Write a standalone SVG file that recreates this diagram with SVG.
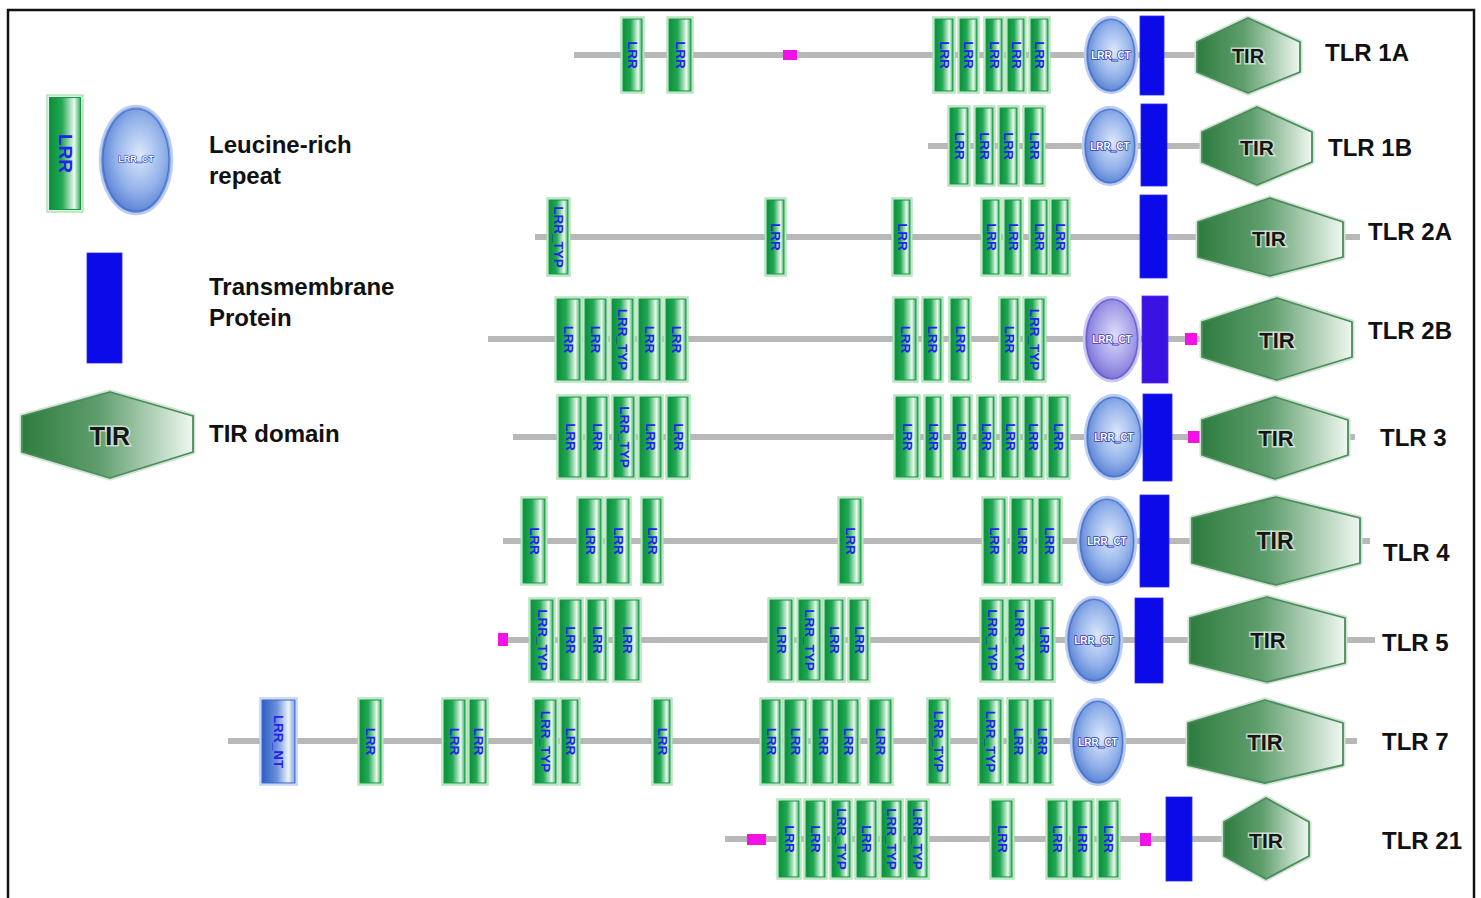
<svg xmlns="http://www.w3.org/2000/svg" width="1481" height="898" viewBox="0 0 1481 898">
  <defs>
    <linearGradient id="gLRR" x1="0" y1="0" x2="1" y2="0">
      <stop offset="0" stop-color="#0a8f3a"/>
      <stop offset="0.4" stop-color="#22a854"/>
      <stop offset="0.8" stop-color="#eaf9ed"/>
      <stop offset="1" stop-color="#33ae5e"/>
    </linearGradient>
    <linearGradient id="gNT" x1="0" y1="0" x2="1" y2="0">
      <stop offset="0" stop-color="#2c5ec6"/>
      <stop offset="0.45" stop-color="#6b90dc"/>
      <stop offset="0.8" stop-color="#eef3fc"/>
      <stop offset="1" stop-color="#7c9fe0"/>
    </linearGradient>
    <radialGradient id="gCT" cx="0.55" cy="0.45" r="0.62">
      <stop offset="0" stop-color="#dde8fb"/>
      <stop offset="0.55" stop-color="#93b2ea"/>
      <stop offset="1" stop-color="#4672cc"/>
    </radialGradient>
    <radialGradient id="gCT2" cx="0.55" cy="0.45" r="0.62">
      <stop offset="0" stop-color="#e0ddfa"/>
      <stop offset="0.55" stop-color="#a39ee8"/>
      <stop offset="1" stop-color="#6c62d0"/>
    </radialGradient>
    <linearGradient id="gTIR" x1="0" y1="0" x2="1" y2="0">
      <stop offset="0" stop-color="#2e7c3f"/>
      <stop offset="0.45" stop-color="#5f9e6d"/>
      <stop offset="1" stop-color="#eff7f0"/>
    </linearGradient>
    <style>
      .bb{stroke:#b8b8b8;stroke-width:6;fill:none}
      .lo{fill:#eaf8ec;stroke:#a3dcab;stroke-width:1.2}
      .li{fill:url(#gLRR);stroke:#129a45;stroke-width:1.1}
      .no{fill:#eef3fc;stroke:#b3c6ee;stroke-width:1.2}
      .ni{fill:url(#gNT);stroke:#3a66c8;stroke-width:1.1}
      .lt{font-family:"Liberation Sans",Arial,sans-serif;font-size:13.5px;font-weight:bold;fill:#2222e8;text-anchor:middle;dominant-baseline:central}
      .ce{fill:url(#gCT);stroke:#bccdf0;stroke-width:2.5}
      .ce2{fill:url(#gCT2);stroke:#cbc7f2;stroke-width:2.5}
      .ci{fill:none;stroke:#4a74cc;stroke-width:1.2}
      .ct{font-family:"Liberation Sans",Arial,sans-serif;font-size:10px;font-weight:bold;fill:#ffffff;stroke:#2c3db5;stroke-width:1.6;paint-order:stroke;stroke-linejoin:round;text-anchor:middle;dominant-baseline:central}
      .tm{fill:#0b0bea;stroke:#2a2af0;stroke-width:0.8}
      .tm2{fill:#3a12e2;stroke:#5030ee;stroke-width:0.8}
      .tiro{fill:none;stroke:#cfe4d3;stroke-width:5;stroke-linejoin:round}
      .tir{fill:url(#gTIR);stroke:#4b8c5b;stroke-width:1.8;stroke-linejoin:round}
      .tt{font-family:"Liberation Sans",Arial,sans-serif;font-weight:bold;fill:#161616;text-anchor:middle;dominant-baseline:central;stroke:#ffffff;stroke-opacity:0.6;stroke-width:3;paint-order:stroke}
      .lab{font-family:"Liberation Sans",Arial,sans-serif;font-size:24px;font-weight:bold;fill:#111111}
      .mg{fill:#f212e6}
    </style>
  </defs>

  <rect x="0" y="0" width="1481" height="898" fill="#ffffff"/>
  <rect x="8" y="10" width="1466" height="900" fill="none" stroke="#111111" stroke-width="2.5"/>

  <!-- protein backbones -->
  <g id="connectors">
    <line class="bb" x1="574" y1="55" x2="1197" y2="55"/>
    <line class="bb" x1="928" y1="146" x2="1202" y2="146"/>
    <line class="bb" x1="535" y1="237" x2="1360" y2="237"/>
    <line class="bb" x1="488" y1="339" x2="1202" y2="339"/>
    <line class="bb" x1="513" y1="437" x2="1355" y2="437"/>
    <line class="bb" x1="503" y1="541" x2="1370" y2="541"/>
    <line class="bb" x1="500" y1="640" x2="1375" y2="640"/>
    <line class="bb" x1="228" y1="741" x2="1357" y2="741"/>
    <line class="bb" x1="725" y1="839" x2="1224" y2="839"/>
  </g>

  <!-- legend -->
  <g id="legend">
    <g id="legend-lrr">
      <rect class="lo" x="47" y="95" width="36" height="117"/>
      <rect class="li" x="49.5" y="97.5" width="31" height="112"/>
      <text class="lt" style="font-size:19px" transform="translate(65 153.5) rotate(90)">LRR</text>
    </g>
    <g id="legend-lrrct">
      <ellipse class="ce" cx="136" cy="160" rx="36" ry="54"/>
      <ellipse class="ci" cx="136" cy="160" rx="33" ry="51"/>
      <text class="ct" style="font-size:9px;stroke-width:1.2" x="136" y="159">LRR_CT</text>
    </g>
    <text class="lab" x="209" y="153">Leucine-rich</text>
    <text class="lab" x="209" y="184">repeat</text>
    <g id="legend-tm">
      <rect class="tm" x="87" y="253" width="35" height="110"/>
    </g>
    <text class="lab" x="209" y="295">Transmembrane</text>
    <text class="lab" x="209" y="326">Protein</text>
    <g id="legend-tir">
      <polygon class="tiro" points="22,416 110,392 193,416 193,452 110,478 22,452"/>
      <polygon class="tir" points="22,416 110,392 193,416 193,452 110,478 22,452"/>
      <text class="tt" style="font-size:25px" x="110" y="436">TIR</text>
    </g>
    <text class="lab" x="209" y="442">TIR domain</text>
  </g>

  <!-- TLR 1A -->
  <g id="tlr1a">
    <g id="tlr1a-lrr1"><rect class="lo" x="621" y="17" width="23" height="76"/><rect class="li" x="623" y="19" width="19" height="72"/><text class="lt" transform="translate(632.5 55) rotate(90)">LRR</text></g>
    <g id="tlr1a-lrr2"><rect class="lo" x="667" y="17" width="26" height="76"/><rect class="li" x="669" y="19" width="22" height="72"/><text class="lt" transform="translate(680 55) rotate(90)">LRR</text></g>
    <g id="tlr1a-site"><rect class="mg" x="783" y="50" width="14" height="10"/></g>
    <g id="tlr1a-lrr3"><rect class="lo" x="933" y="17" width="22" height="76"/><rect class="li" x="935" y="19" width="18" height="72"/><text class="lt" transform="translate(944 55) rotate(90)">LRR</text></g>
    <g id="tlr1a-lrr4"><rect class="lo" x="958" y="17" width="21" height="76"/><rect class="li" x="960" y="19" width="17" height="72"/><text class="lt" transform="translate(968.5 55) rotate(90)">LRR</text></g>
    <g id="tlr1a-lrr5"><rect class="lo" x="984" y="17" width="20" height="76"/><rect class="li" x="986" y="19" width="16" height="72"/><text class="lt" transform="translate(994 55) rotate(90)">LRR</text></g>
    <g id="tlr1a-lrr6"><rect class="lo" x="1006" y="17" width="20" height="76"/><rect class="li" x="1008" y="19" width="16" height="72"/><text class="lt" transform="translate(1016 55) rotate(90)">LRR</text></g>
    <g id="tlr1a-lrr7"><rect class="lo" x="1029" y="17" width="21" height="76"/><rect class="li" x="1031" y="19" width="17" height="72"/><text class="lt" transform="translate(1039.5 55) rotate(90)">LRR</text></g>
    <g id="tlr1a-ct"><ellipse class="ce" cx="1111" cy="55" rx="26" ry="38"/><ellipse class="ci" cx="1111" cy="55" rx="23.5" ry="35.5"/><text class="ct" x="1111" y="55">LRR_CT</text></g>
    <g id="tlr1a-tm"><rect class="tm" x="1140" y="16" width="24" height="79"/></g>
    <g id="tlr1a-tir">
      <polygon class="tiro" points="1197,42 1248,18 1300,42 1300,72 1248,93 1197,72"/>
      <polygon class="tir" points="1197,42 1248,18 1300,42 1300,72 1248,93 1197,72"/>
      <text class="tt" style="font-size:20px" x="1248" y="56">TIR</text>
    </g>
    <text class="lab" x="1325" y="61">TLR 1A</text>
  </g>

  <!-- TLR 1B -->
  <g id="tlr1b">
    <g id="tlr1b-lrr1"><rect class="lo" x="948" y="106" width="22" height="80"/><rect class="li" x="950" y="108" width="18" height="76"/><text class="lt" transform="translate(959 146) rotate(90)">LRR</text></g>
    <g id="tlr1b-lrr2"><rect class="lo" x="974" y="106" width="21" height="80"/><rect class="li" x="976" y="108" width="17" height="76"/><text class="lt" transform="translate(984.5 146) rotate(90)">LRR</text></g>
    <g id="tlr1b-lrr3"><rect class="lo" x="998" y="106" width="21" height="80"/><rect class="li" x="1000" y="108" width="17" height="76"/><text class="lt" transform="translate(1008.5 146) rotate(90)">LRR</text></g>
    <g id="tlr1b-lrr4"><rect class="lo" x="1023" y="106" width="22" height="80"/><rect class="li" x="1025" y="108" width="18" height="76"/><text class="lt" transform="translate(1034 146) rotate(90)">LRR</text></g>
    <g id="tlr1b-ct"><ellipse class="ce" cx="1110" cy="146" rx="27" ry="39"/><ellipse class="ci" cx="1110" cy="146" rx="24.5" ry="36.5"/><text class="ct" x="1110" y="146">LRR_CT</text></g>
    <g id="tlr1b-tm"><rect class="tm" x="1141" y="104" width="26" height="82"/></g>
    <g id="tlr1b-tir">
      <polygon class="tiro" points="1202,132 1257,107 1312,132 1312,162 1257,185 1202,162"/>
      <polygon class="tir" points="1202,132 1257,107 1312,132 1312,162 1257,185 1202,162"/>
      <text class="tt" style="font-size:21px" x="1257" y="147">TIR</text>
    </g>
    <text class="lab" x="1328" y="156">TLR 1B</text>
  </g>

  <!-- TLR 2A -->
  <g id="tlr2a">
    <g id="tlr2a-lrr1"><rect class="lo" x="547" y="198" width="23" height="78"/><rect class="li" x="549" y="200" width="19" height="74"/><text class="lt" transform="translate(558.5 237) rotate(90)">LRR_TYP</text></g>
    <g id="tlr2a-lrr2"><rect class="lo" x="765" y="198" width="21" height="78"/><rect class="li" x="767" y="200" width="17" height="74"/><text class="lt" transform="translate(775.5 237) rotate(90)">LRR</text></g>
    <g id="tlr2a-lrr3"><rect class="lo" x="892" y="198" width="20" height="78"/><rect class="li" x="894" y="200" width="16" height="74"/><text class="lt" transform="translate(902 237) rotate(90)">LRR</text></g>
    <g id="tlr2a-lrr4"><rect class="lo" x="981" y="198" width="20" height="78"/><rect class="li" x="983" y="200" width="16" height="74"/><text class="lt" transform="translate(991 237) rotate(90)">LRR</text></g>
    <g id="tlr2a-lrr5"><rect class="lo" x="1003" y="198" width="20" height="78"/><rect class="li" x="1005" y="200" width="16" height="74"/><text class="lt" transform="translate(1013 237) rotate(90)">LRR</text></g>
    <g id="tlr2a-lrr6"><rect class="lo" x="1029" y="198" width="20" height="78"/><rect class="li" x="1031" y="200" width="16" height="74"/><text class="lt" transform="translate(1039 237) rotate(90)">LRR</text></g>
    <g id="tlr2a-lrr7"><rect class="lo" x="1050" y="198" width="20" height="78"/><rect class="li" x="1052" y="200" width="16" height="74"/><text class="lt" transform="translate(1060 237) rotate(90)">LRR</text></g>
    <g id="tlr2a-tm"><rect class="tm" x="1140" y="195" width="27" height="83"/></g>
    <g id="tlr2a-tir">
      <polygon class="tiro" points="1198,222 1270,198 1343,222 1343,257 1270,276 1198,257"/>
      <polygon class="tir" points="1198,222 1270,198 1343,222 1343,257 1270,276 1198,257"/>
      <text class="tt" style="font-size:21px" x="1269" y="238">TIR</text>
    </g>
    <text class="lab" x="1368" y="240">TLR 2A</text>
  </g>

  <!-- TLR 2B -->
  <g id="tlr2b">
    <g id="tlr2b-lrr1"><rect class="lo" x="555" y="297" width="27" height="85"/><rect class="li" x="557" y="299" width="23" height="81"/><text class="lt" transform="translate(568.5 339.5) rotate(90)">LRR</text></g>
    <g id="tlr2b-lrr2"><rect class="lo" x="583" y="297" width="25" height="85"/><rect class="li" x="585" y="299" width="21" height="81"/><text class="lt" transform="translate(595.5 339.5) rotate(90)">LRR</text></g>
    <g id="tlr2b-lrr3"><rect class="lo" x="610" y="297" width="25" height="85"/><rect class="li" x="612" y="299" width="21" height="81"/><text class="lt" transform="translate(622.5 339.5) rotate(90)">LRR_TYP</text></g>
    <g id="tlr2b-lrr4"><rect class="lo" x="637" y="297" width="25" height="85"/><rect class="li" x="639" y="299" width="21" height="81"/><text class="lt" transform="translate(649.5 339.5) rotate(90)">LRR</text></g>
    <g id="tlr2b-lrr5"><rect class="lo" x="664" y="297" width="24" height="85"/><rect class="li" x="666" y="299" width="20" height="81"/><text class="lt" transform="translate(676 339.5) rotate(90)">LRR</text></g>
    <g id="tlr2b-lrr6"><rect class="lo" x="893" y="297" width="25" height="85"/><rect class="li" x="895" y="299" width="21" height="81"/><text class="lt" transform="translate(905.5 339.5) rotate(90)">LRR</text></g>
    <g id="tlr2b-lrr7"><rect class="lo" x="922" y="297" width="21" height="85"/><rect class="li" x="924" y="299" width="17" height="81"/><text class="lt" transform="translate(932.5 339.5) rotate(90)">LRR</text></g>
    <g id="tlr2b-lrr8"><rect class="lo" x="949" y="297" width="22" height="85"/><rect class="li" x="951" y="299" width="18" height="81"/><text class="lt" transform="translate(960 339.5) rotate(90)">LRR</text></g>
    <g id="tlr2b-lrr9"><rect class="lo" x="999" y="297" width="21" height="85"/><rect class="li" x="1001" y="299" width="17" height="81"/><text class="lt" transform="translate(1009.5 339.5) rotate(90)">LRR</text></g>
    <g id="tlr2b-lrr10"><rect class="lo" x="1023" y="297" width="23" height="85"/><rect class="li" x="1025" y="299" width="19" height="81"/><text class="lt" transform="translate(1034.5 339.5) rotate(90)">LRR_TYP</text></g>
    <g id="tlr2b-ct"><ellipse class="ce2" cx="1112" cy="339" rx="28" ry="42"/><ellipse class="ci" style="stroke:#6a5fd0" cx="1112" cy="339" rx="25.5" ry="39.5"/><text class="ct" style="stroke:#4a3cb8" x="1112" y="339">LRR_CT</text></g>
    <g id="tlr2b-tm"><rect class="tm2" x="1142" y="296" width="26" height="87"/></g>
    <g id="tlr2b-site"><rect class="mg" x="1185" y="333" width="12" height="12"/></g>
    <g id="tlr2b-tir">
      <polygon class="tiro" points="1202,322 1277,298 1352,322 1352,357 1277,380 1202,357"/>
      <polygon class="tir" points="1202,322 1277,298 1352,322 1352,357 1277,380 1202,357"/>
      <text class="tt" style="font-size:22px" x="1277" y="340">TIR</text>
    </g>
    <text class="lab" x="1368" y="339">TLR 2B</text>
  </g>

  <!-- TLR 3 -->
  <g id="tlr3">
    <g id="tlr3-lrr1"><rect class="lo" x="557" y="395" width="26" height="84"/><rect class="li" x="559" y="397" width="22" height="80"/><text class="lt" transform="translate(570 437) rotate(90)">LRR</text></g>
    <g id="tlr3-lrr2"><rect class="lo" x="585" y="395" width="24" height="84"/><rect class="li" x="587" y="397" width="20" height="80"/><text class="lt" transform="translate(597 437) rotate(90)">LRR</text></g>
    <g id="tlr3-lrr3"><rect class="lo" x="612" y="395" width="24" height="84"/><rect class="li" x="614" y="397" width="20" height="80"/><text class="lt" transform="translate(624 437) rotate(90)">LRR_TYP</text></g>
    <g id="tlr3-lrr4"><rect class="lo" x="638" y="395" width="25" height="84"/><rect class="li" x="640" y="397" width="21" height="80"/><text class="lt" transform="translate(650.5 437) rotate(90)">LRR</text></g>
    <g id="tlr3-lrr5"><rect class="lo" x="666" y="395" width="24" height="84"/><rect class="li" x="668" y="397" width="20" height="80"/><text class="lt" transform="translate(678 437) rotate(90)">LRR</text></g>
    <g id="tlr3-lrr6"><rect class="lo" x="894" y="395" width="26" height="84"/><rect class="li" x="896" y="397" width="22" height="80"/><text class="lt" transform="translate(907 437) rotate(90)">LRR</text></g>
    <g id="tlr3-lrr7"><rect class="lo" x="924" y="395" width="19" height="84"/><rect class="li" x="926" y="397" width="15" height="80"/><text class="lt" transform="translate(933.5 437) rotate(90)">LRR</text></g>
    <g id="tlr3-lrr8"><rect class="lo" x="951" y="395" width="21" height="84"/><rect class="li" x="953" y="397" width="17" height="80"/><text class="lt" transform="translate(961.5 437) rotate(90)">LRR</text></g>
    <g id="tlr3-lrr9"><rect class="lo" x="977" y="395" width="19" height="84"/><rect class="li" x="979" y="397" width="15" height="80"/><text class="lt" transform="translate(986.5 437) rotate(90)">LRR</text></g>
    <g id="tlr3-lrr10"><rect class="lo" x="1000" y="395" width="20" height="84"/><rect class="li" x="1002" y="397" width="16" height="80"/><text class="lt" transform="translate(1010 437) rotate(90)">LRR</text></g>
    <g id="tlr3-lrr11"><rect class="lo" x="1023" y="395" width="21" height="84"/><rect class="li" x="1025" y="397" width="17" height="80"/><text class="lt" transform="translate(1033.5 437) rotate(90)">LRR</text></g>
    <g id="tlr3-lrr12"><rect class="lo" x="1047" y="395" width="23" height="84"/><rect class="li" x="1049" y="397" width="19" height="80"/><text class="lt" transform="translate(1058.5 437) rotate(90)">LRR</text></g>
    <g id="tlr3-ct"><ellipse class="ce" cx="1114" cy="437" rx="29" ry="42"/><ellipse class="ci" cx="1114" cy="437" rx="26.5" ry="39.5"/><text class="ct" x="1114" y="437">LRR_CT</text></g>
    <g id="tlr3-tm"><rect class="tm" x="1143" y="394" width="29" height="87"/></g>
    <g id="tlr3-site"><rect class="mg" x="1188" y="431" width="12" height="12"/></g>
    <g id="tlr3-tir">
      <polygon class="tiro" points="1202,420 1275,397 1348,420 1348,455 1275,479 1202,455"/>
      <polygon class="tir" points="1202,420 1275,397 1348,420 1348,455 1275,479 1202,455"/>
      <text class="tt" style="font-size:22px" x="1276" y="438">TIR</text>
    </g>
    <text class="lab" x="1380" y="446">TLR 3</text>
  </g>

  <!-- TLR 4 -->
  <g id="tlr4">
    <g id="tlr4-lrr1"><rect class="lo" x="521" y="497" width="26" height="88"/><rect class="li" x="523" y="499" width="22" height="84"/><text class="lt" transform="translate(534 541) rotate(90)">LRR</text></g>
    <g id="tlr4-lrr2"><rect class="lo" x="577" y="497" width="26" height="88"/><rect class="li" x="579" y="499" width="22" height="84"/><text class="lt" transform="translate(590 541) rotate(90)">LRR</text></g>
    <g id="tlr4-lrr3"><rect class="lo" x="605" y="497" width="26" height="88"/><rect class="li" x="607" y="499" width="22" height="84"/><text class="lt" transform="translate(618 541) rotate(90)">LRR</text></g>
    <g id="tlr4-lrr4"><rect class="lo" x="641" y="497" width="22" height="88"/><rect class="li" x="643" y="499" width="18" height="84"/><text class="lt" transform="translate(652 541) rotate(90)">LRR</text></g>
    <g id="tlr4-lrr5"><rect class="lo" x="838" y="497" width="25" height="88"/><rect class="li" x="840" y="499" width="21" height="84"/><text class="lt" transform="translate(850.5 541) rotate(90)">LRR</text></g>
    <g id="tlr4-lrr6"><rect class="lo" x="982" y="497" width="25" height="88"/><rect class="li" x="984" y="499" width="21" height="84"/><text class="lt" transform="translate(994.5 541) rotate(90)">LRR</text></g>
    <g id="tlr4-lrr7"><rect class="lo" x="1010" y="497" width="25" height="88"/><rect class="li" x="1012" y="499" width="21" height="84"/><text class="lt" transform="translate(1022.5 541) rotate(90)">LRR</text></g>
    <g id="tlr4-lrr8"><rect class="lo" x="1037" y="497" width="25" height="88"/><rect class="li" x="1039" y="499" width="21" height="84"/><text class="lt" transform="translate(1049.5 541) rotate(90)">LRR</text></g>
    <g id="tlr4-ct"><ellipse class="ce" cx="1107" cy="541" rx="29" ry="44"/><ellipse class="ci" cx="1107" cy="541" rx="26.5" ry="41.5"/><text class="ct" x="1107" y="541">LRR_CT</text></g>
    <g id="tlr4-tm"><rect class="tm" x="1140" y="495" width="29" height="92"/></g>
    <g id="tlr4-tir">
      <polygon class="tiro" points="1192,518 1276,497 1360,518 1360,563 1276,585 1192,563"/>
      <polygon class="tir" points="1192,518 1276,497 1360,518 1360,563 1276,585 1192,563"/>
      <text class="tt" style="font-size:23px" x="1275" y="541">TIR</text>
    </g>
    <text class="lab" x="1383" y="561">TLR 4</text>
  </g>

  <!-- TLR 5 -->
  <g id="tlr5">
    <g id="tlr5-site"><rect class="mg" x="498" y="633" width="10" height="13"/></g>
    <g id="tlr5-lrr1"><rect class="lo" x="529" y="598" width="26" height="84"/><rect class="li" x="531" y="600" width="22" height="80"/><text class="lt" transform="translate(542 640) rotate(90)">LRR_TYP</text></g>
    <g id="tlr5-lrr2"><rect class="lo" x="558" y="598" width="25" height="84"/><rect class="li" x="560" y="600" width="21" height="80"/><text class="lt" transform="translate(570.5 640) rotate(90)">LRR</text></g>
    <g id="tlr5-lrr3"><rect class="lo" x="586" y="598" width="22" height="84"/><rect class="li" x="588" y="600" width="18" height="80"/><text class="lt" transform="translate(597 640) rotate(90)">LRR</text></g>
    <g id="tlr5-lrr4"><rect class="lo" x="613" y="598" width="28" height="84"/><rect class="li" x="615" y="600" width="24" height="80"/><text class="lt" transform="translate(627 640) rotate(90)">LRR</text></g>
    <g id="tlr5-lrr5"><rect class="lo" x="768" y="598" width="26" height="84"/><rect class="li" x="770" y="600" width="22" height="80"/><text class="lt" transform="translate(781 640) rotate(90)">LRR</text></g>
    <g id="tlr5-lrr6"><rect class="lo" x="797" y="598" width="25" height="84"/><rect class="li" x="799" y="600" width="21" height="80"/><text class="lt" transform="translate(809.5 640) rotate(90)">LRR_TYP</text></g>
    <g id="tlr5-lrr7"><rect class="lo" x="823" y="598" width="22" height="84"/><rect class="li" x="825" y="600" width="18" height="80"/><text class="lt" transform="translate(834 640) rotate(90)">LRR</text></g>
    <g id="tlr5-lrr8"><rect class="lo" x="848" y="598" width="22" height="84"/><rect class="li" x="850" y="600" width="18" height="80"/><text class="lt" transform="translate(859 640) rotate(90)">LRR</text></g>
    <g id="tlr5-lrr9"><rect class="lo" x="980" y="598" width="25" height="84"/><rect class="li" x="982" y="600" width="21" height="80"/><text class="lt" transform="translate(992.5 640) rotate(90)">LRR_TYP</text></g>
    <g id="tlr5-lrr10"><rect class="lo" x="1007" y="598" width="25" height="84"/><rect class="li" x="1009" y="600" width="21" height="80"/><text class="lt" transform="translate(1019.5 640) rotate(90)">LRR_TYP</text></g>
    <g id="tlr5-lrr11"><rect class="lo" x="1033" y="598" width="22" height="84"/><rect class="li" x="1035" y="600" width="18" height="80"/><text class="lt" transform="translate(1044 640) rotate(90)">LRR</text></g>
    <g id="tlr5-ct"><ellipse class="ce" cx="1094" cy="640" rx="28" ry="43"/><ellipse class="ci" cx="1094" cy="640" rx="25.5" ry="40.5"/><text class="ct" x="1094" y="640">LRR_CT</text></g>
    <g id="tlr5-tm"><rect class="tm" x="1135" y="598" width="28" height="85"/></g>
    <g id="tlr5-tir">
      <polygon class="tiro" points="1190,618 1267,597 1345,618 1345,663 1267,682 1190,663"/>
      <polygon class="tir" points="1190,618 1267,597 1345,618 1345,663 1267,682 1190,663"/>
      <text class="tt" style="font-size:22px" x="1268" y="640">TIR</text>
    </g>
    <text class="lab" x="1382" y="651">TLR 5</text>
  </g>

  <!-- TLR 7 -->
  <g id="tlr7">
    <g id="tlr7-nt"><rect class="no" x="260" y="698" width="37" height="87"/><rect class="ni" x="262" y="700" width="33" height="83"/><text class="lt" transform="translate(278.5 741.5) rotate(90)">LRR_NT</text></g>
    <g id="tlr7-lrr1"><rect class="lo" x="358" y="698" width="25" height="87"/><rect class="li" x="360" y="700" width="21" height="83"/><text class="lt" transform="translate(370.5 741.5) rotate(90)">LRR</text></g>
    <g id="tlr7-lrr2"><rect class="lo" x="442" y="698" width="25" height="87"/><rect class="li" x="444" y="700" width="21" height="83"/><text class="lt" transform="translate(454.5 741.5) rotate(90)">LRR</text></g>
    <g id="tlr7-lrr3"><rect class="lo" x="468" y="698" width="20" height="87"/><rect class="li" x="470" y="700" width="16" height="83"/><text class="lt" transform="translate(478 741.5) rotate(90)">LRR</text></g>
    <g id="tlr7-lrr4"><rect class="lo" x="533" y="698" width="25" height="87"/><rect class="li" x="535" y="700" width="21" height="83"/><text class="lt" transform="translate(545.5 741.5) rotate(90)">LRR_TYP</text></g>
    <g id="tlr7-lrr5"><rect class="lo" x="560" y="698" width="20" height="87"/><rect class="li" x="562" y="700" width="16" height="83"/><text class="lt" transform="translate(570 741.5) rotate(90)">LRR</text></g>
    <g id="tlr7-lrr6"><rect class="lo" x="652" y="698" width="20" height="87"/><rect class="li" x="654" y="700" width="16" height="83"/><text class="lt" transform="translate(662 741.5) rotate(90)">LRR</text></g>
    <g id="tlr7-lrr7"><rect class="lo" x="760" y="698" width="22" height="87"/><rect class="li" x="762" y="700" width="18" height="83"/><text class="lt" transform="translate(771 741.5) rotate(90)">LRR</text></g>
    <g id="tlr7-lrr8"><rect class="lo" x="783" y="698" width="25" height="87"/><rect class="li" x="785" y="700" width="21" height="83"/><text class="lt" transform="translate(795.5 741.5) rotate(90)">LRR</text></g>
    <g id="tlr7-lrr9"><rect class="lo" x="811" y="698" width="24" height="87"/><rect class="li" x="813" y="700" width="20" height="83"/><text class="lt" transform="translate(823 741.5) rotate(90)">LRR</text></g>
    <g id="tlr7-lrr10"><rect class="lo" x="836" y="698" width="24" height="87"/><rect class="li" x="838" y="700" width="20" height="83"/><text class="lt" transform="translate(848 741.5) rotate(90)">LRR</text></g>
    <g id="tlr7-lrr11"><rect class="lo" x="868" y="698" width="25" height="87"/><rect class="li" x="870" y="700" width="21" height="83"/><text class="lt" transform="translate(880.5 741.5) rotate(90)">LRR</text></g>
    <g id="tlr7-lrr12"><rect class="lo" x="927" y="698" width="23" height="87"/><rect class="li" x="929" y="700" width="19" height="83"/><text class="lt" transform="translate(938.5 741.5) rotate(90)">LRR_TYP</text></g>
    <g id="tlr7-lrr13"><rect class="lo" x="978" y="698" width="25" height="87"/><rect class="li" x="980" y="700" width="21" height="83"/><text class="lt" transform="translate(990.5 741.5) rotate(90)">LRR_TYP</text></g>
    <g id="tlr7-lrr14"><rect class="lo" x="1007" y="698" width="23" height="87"/><rect class="li" x="1009" y="700" width="19" height="83"/><text class="lt" transform="translate(1018.5 741.5) rotate(90)">LRR</text></g>
    <g id="tlr7-lrr15"><rect class="lo" x="1032" y="698" width="21" height="87"/><rect class="li" x="1034" y="700" width="17" height="83"/><text class="lt" transform="translate(1042.5 741.5) rotate(90)">LRR</text></g>
    <g id="tlr7-ct"><ellipse class="ce" cx="1098" cy="742" rx="27" ry="43"/><ellipse class="ci" cx="1098" cy="742" rx="24.5" ry="40.5"/><text class="ct" x="1098" y="742">LRR_CT</text></g>
    <g id="tlr7-tir">
      <polygon class="tiro" points="1188,723 1265,700 1343,723 1343,765 1265,783 1188,765"/>
      <polygon class="tir" points="1188,723 1265,700 1343,723 1343,765 1265,783 1188,765"/>
      <text class="tt" style="font-size:22px" x="1265" y="742">TIR</text>
    </g>
    <text class="lab" x="1382" y="750">TLR 7</text>
  </g>

  <!-- TLR 21 -->
  <g id="tlr21">
    <g id="tlr21-site1"><rect class="mg" x="747" y="834" width="19" height="11"/></g>
    <g id="tlr21-lrr1"><rect class="lo" x="777" y="799" width="24" height="80"/><rect class="li" x="779" y="801" width="20" height="76"/><text class="lt" transform="translate(789 839) rotate(90)">LRR</text></g>
    <g id="tlr21-lrr2"><rect class="lo" x="804" y="799" width="23" height="80"/><rect class="li" x="806" y="801" width="19" height="76"/><text class="lt" transform="translate(815.5 839) rotate(90)">LRR</text></g>
    <g id="tlr21-lrr3"><rect class="lo" x="830" y="799" width="22" height="80"/><rect class="li" x="832" y="801" width="18" height="76"/><text class="lt" transform="translate(841 839) rotate(90)">LRR_TYP</text></g>
    <g id="tlr21-lrr4"><rect class="lo" x="855" y="799" width="23" height="80"/><rect class="li" x="857" y="801" width="19" height="76"/><text class="lt" transform="translate(866.5 839) rotate(90)">LRR</text></g>
    <g id="tlr21-lrr5"><rect class="lo" x="880" y="799" width="23" height="80"/><rect class="li" x="882" y="801" width="19" height="76"/><text class="lt" transform="translate(891.5 839) rotate(90)">LRR_TYP</text></g>
    <g id="tlr21-lrr6"><rect class="lo" x="906" y="799" width="23" height="80"/><rect class="li" x="908" y="801" width="19" height="76"/><text class="lt" transform="translate(917.5 839) rotate(90)">LRR_TYP</text></g>
    <g id="tlr21-lrr7"><rect class="lo" x="990" y="799" width="24" height="80"/><rect class="li" x="992" y="801" width="20" height="76"/><text class="lt" transform="translate(1002 839) rotate(90)">LRR</text></g>
    <g id="tlr21-lrr8"><rect class="lo" x="1046" y="799" width="23" height="80"/><rect class="li" x="1048" y="801" width="19" height="76"/><text class="lt" transform="translate(1057.5 839) rotate(90)">LRR</text></g>
    <g id="tlr21-lrr9"><rect class="lo" x="1071" y="799" width="23" height="80"/><rect class="li" x="1073" y="801" width="19" height="76"/><text class="lt" transform="translate(1082.5 839) rotate(90)">LRR</text></g>
    <g id="tlr21-lrr10"><rect class="lo" x="1097" y="799" width="23" height="80"/><rect class="li" x="1099" y="801" width="19" height="76"/><text class="lt" transform="translate(1108.5 839) rotate(90)">LRR</text></g>
    <g id="tlr21-site2"><rect class="mg" x="1140" y="833" width="11" height="13"/></g>
    <g id="tlr21-tm"><rect class="tm" x="1166" y="797" width="26" height="84"/></g>
    <g id="tlr21-tir">
      <polygon class="tiro" points="1224,822 1266,798 1309,822 1309,856 1266,879 1224,856"/>
      <polygon class="tir" points="1224,822 1266,798 1309,822 1309,856 1266,879 1224,856"/>
      <text class="tt" style="font-size:21px" x="1266" y="840">TIR</text>
    </g>
    <text class="lab" x="1382" y="849">TLR 21</text>
  </g>
</svg>
